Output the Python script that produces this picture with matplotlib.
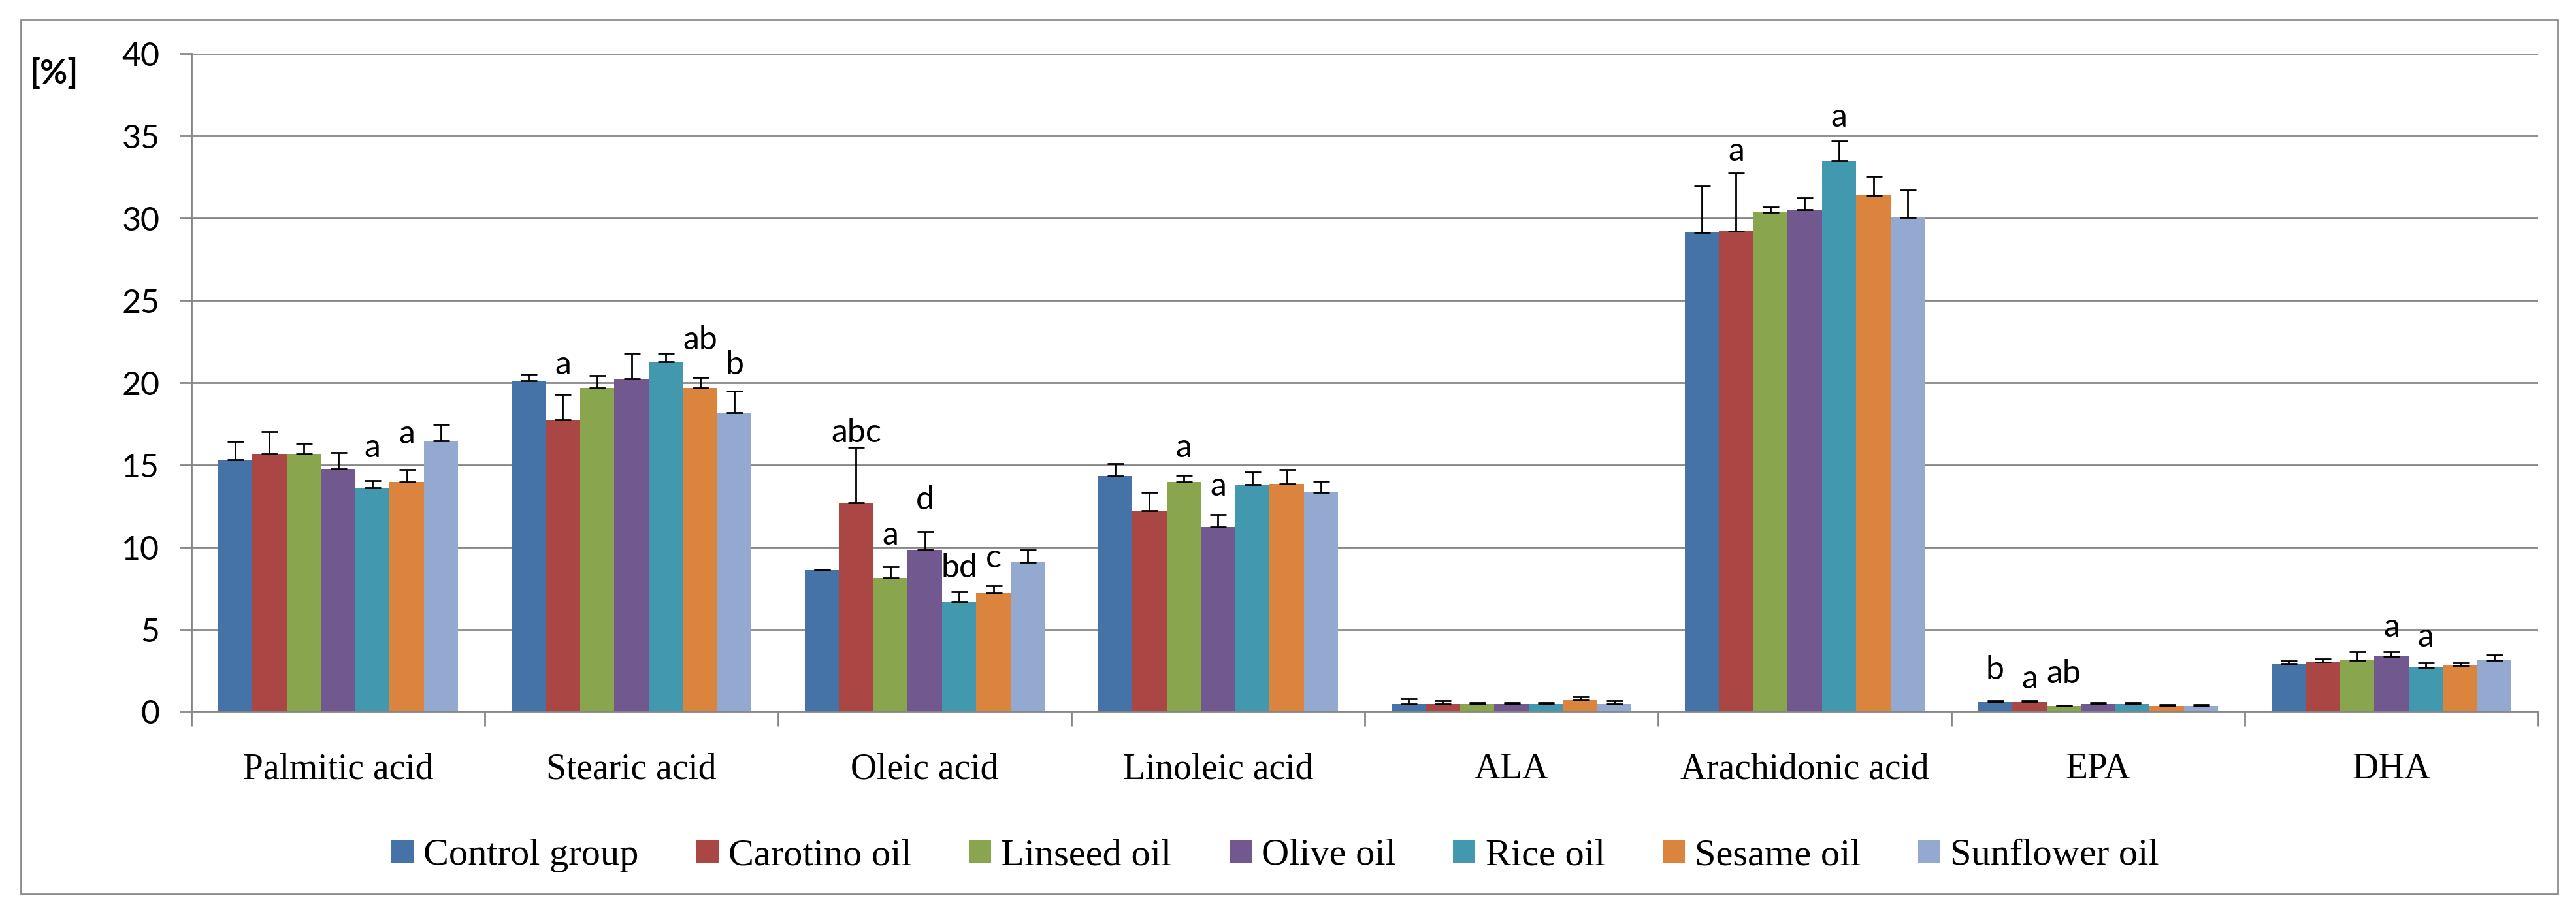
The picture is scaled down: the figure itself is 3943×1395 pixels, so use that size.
import numpy as np
import matplotlib
matplotlib.use("Agg")
import matplotlib.pyplot as plt
from matplotlib.patches import Rectangle
from matplotlib.lines import Line2D

categories = ['Palmitic acid', 'Stearic acid', 'Oleic acid', 'Linoleic acid',
              'ALA', 'Arachidonic acid', 'EPA', 'DHA']
series_names = ['Control group', 'Carotino oil', 'Linseed oil', 'Olive oil',
                'Rice oil', 'Sesame oil', 'Sunflower oil']
colors = ['#4572A7', '#AA4643', '#89A54E', '#71588F', '#4198AF', '#DB843D', '#93A9CF']

control = [15.33, 20.12, 8.60, 14.31, 0.48, 29.11, 0.58, 2.90]
control_err = [1.10, 0.40, 0.06, 0.75, 0.31, 2.84, 0.08, 0.20]
carotino = [15.68, 17.73, 12.70, 12.24, 0.48, 29.22, 0.58, 3.01]
carotino_err = [1.35, 1.56, 3.36, 1.10, 0.18, 3.53, 0.08, 0.20]
linseed = [15.68, 19.67, 8.15, 13.96, 0.48, 30.37, 0.34, 3.13]
linseed_err = [0.63, 0.77, 0.66, 0.42, 0.06, 0.30, 0.04, 0.54]
olive = [14.76, 20.24, 9.86, 11.23, 0.46, 30.50, 0.46, 3.36]
olive_err = [1.00, 1.56, 1.10, 0.75, 0.08, 0.74, 0.09, 0.31]
rice = [13.63, 21.28, 6.66, 13.82, 0.48, 33.49, 0.46, 2.68]
rice_err = [0.42, 0.50, 0.66, 0.76, 0.07, 1.21, 0.09, 0.29]
sesame = [13.96, 19.67, 7.23, 13.86, 0.71, 31.40, 0.36, 2.80]
sesame_err = [0.75, 0.66, 0.41, 0.87, 0.19, 1.12, 0.06, 0.17]
sunflower = [16.46, 18.18, 9.07, 13.35, 0.48, 30.04, 0.36, 3.14]
sunflower_err = [1.01, 1.32, 0.77, 0.65, 0.19, 1.66, 0.06, 0.30]

values = [control, carotino, linseed, olive, rice, sesame, sunflower]
errors = [control_err, carotino_err, linseed_err, olive_err, rice_err, sesame_err, sunflower_err]

# significance letters: (category index, series index, text, y baseline)
ann_cat = [0, 0, 1, 1, 1, 2, 2, 2, 2, 2, 3, 3, 5, 5, 6, 6, 6, 7, 7]
ann_ser = [4, 5, 1, 5, 6, 1, 2, 3, 4, 5, 2, 3, 1, 4, 0, 1, 2, 3, 4]
ann_txt = ['a', 'a', 'a', 'ab', 'b', 'abc', 'a', 'd', 'bd', 'c', 'a', 'a',
           'a', 'a', 'b', 'a', 'ab', 'a', 'a']
ann_y = [15.48, 16.31, 20.53, 22.03, 20.53, 16.39, 10.14, 12.32, 8.18, 8.78,
         15.48, 13.15, 33.51, 35.55, 2.00, 1.41, 1.74, 4.58, 3.98]

yticks = [0, 5, 10, 15, 20, 25, 30, 35, 40]

W, H = 3943, 1395
fig = plt.figure(figsize=(W / 100, H / 100), dpi=100)
ax = fig.add_axes([293 / W, 1 - 1090 / H, (3885 - 293) / W, (1090 - 82) / H])

serif = ['Liberation Serif', 'DejaVu Serif']
sans = ['Liberation Sans Narrow', 'Lato', 'DejaVu Sans']
grid_c = '#868686'

x = np.arange(len(categories))
bw = 0.117
n = len(series_names)
for i, (vals, errs, col, name) in enumerate(zip(values, errors, colors, series_names)):
    pos = x + (i - (n - 1) / 2) * bw
    ax.bar(pos, vals, width=bw, color=col, label=name, zorder=2, linewidth=0)
    ax.errorbar(pos, vals, yerr=[np.zeros(len(vals)), errs], fmt='none',
                ecolor='black', elinewidth=2.0, capsize=9, capthick=2.0, zorder=3)

for c, s, t, yv in zip(ann_cat, ann_ser, ann_txt, ann_y):
    xp = c + (s - (n - 1) / 2) * bw
    ax.text(xp, yv, t, ha='center', va='baseline', fontsize=36, family=sans, zorder=4)

ax.set_xlim(-0.5, len(categories) - 0.5)
ax.set_ylim(0, 40)
ax.set_yticks(yticks)
ax.set_yticklabels([str(v) for v in yticks], fontsize=36, family=sans)
ax.yaxis.grid(True, color=grid_c, linewidth=2.0)
ax.set_axisbelow(True)

ax.set_xticks(x)
ax.set_xticklabels(categories, fontsize=40, family=serif)
ax.set_xticks(np.arange(-0.5, len(categories)), minor=True)
ax.tick_params(axis='x', which='major', length=0, pad=45)
ax.tick_params(axis='x', which='minor', length=16, width=2, color=grid_c, direction='out')
ax.tick_params(axis='y', which='major', length=13, width=2, color=grid_c, pad=22)

for side in ['top', 'right']:
    ax.spines[side].set_visible(False)
for side in ['left', 'bottom']:
    ax.spines[side].set_color(grid_c)
    ax.spines[side].set_linewidth(2.0)

fig.text(83 / W, 1 - 113 / H, '[%]', ha='center', va='center', fontsize=37,
         fontweight='bold', family=sans)

handles = [Line2D([], [], marker='s', linestyle='none', markersize=24,
                  markerfacecolor=c, markeredgewidth=0) for c in colors]
fig.legend(handles, series_names, loc='center', bbox_to_anchor=(0.495, 1 - 1310 / H),
           ncol=7, frameon=False, prop={'family': serif, 'size': 42},
           handlelength=0.6, handletextpad=0.25, columnspacing=1.5)

fig.patches.append(Rectangle((32 / W, 1 - 1369 / H), (3915 - 32) / W, (1369 - 30) / H,
                             transform=fig.transFigure, fill=False,
                             edgecolor='#8c8c8c', linewidth=2.0))

fig.savefig('out.png', dpi=100, facecolor='white')
